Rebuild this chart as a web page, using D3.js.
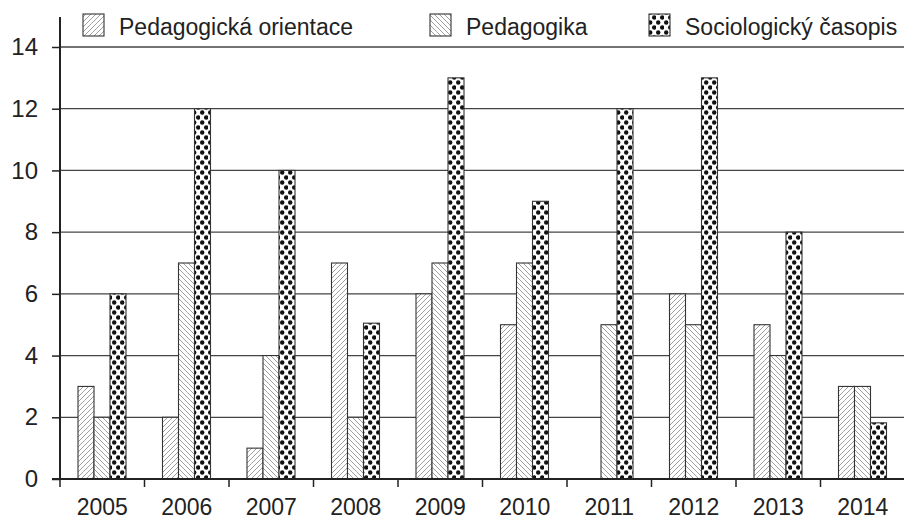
<!DOCTYPE html>
<html><head><meta charset="utf-8">
<script src="https://cdn.jsdelivr.net/npm/d3@7"></script>
<style>body{margin:0;background:#fff}svg{display:block}text{font-family:"Liberation Sans",Arial,sans-serif;fill:#222}</style>
</head><body><div id="chart"></div>
<script>
const years = ["2005","2006","2007","2008","2009","2010","2011","2012","2013","2014"];
const seriesNames = ["Pedagogická orientace","Pedagogika","Sociologický časopis"];
const pedOrientace = [3,2,1,7,6,5,0,6,5,3];
const pedagogika = [2,7,4,2,7,7,5,5,4,3];
const socCasopis = [6,12,10,5.05,13,9,12,13,8,1.82];
const yTicks = [0,2,4,6,8,10,12,14];
const seriesValues = [pedOrientace, pedagogika, socCasopis];

const W = 904, H = 520;
const svg = d3.select("#chart").append("svg").attr("width", W).attr("height", H);
const defs = svg.append("defs");

// patterns
const p1 = defs.append("pattern").attr("id","pat0").attr("patternUnits","userSpaceOnUse").attr("width",5).attr("height",5);
p1.append("rect").attr("width",5).attr("height",5).attr("fill","#fff");
p1.append("path").attr("d","M-1,1 L1,-1 M0,5 L5,0 M4,6 L6,4").attr("stroke","#888").attr("stroke-width",0.8);
const p2 = defs.append("pattern").attr("id","pat1").attr("patternUnits","userSpaceOnUse").attr("width",5).attr("height",5);
p2.append("rect").attr("width",5).attr("height",5).attr("fill","#fff");
p2.append("path").attr("d","M-1,4 L1,6 M0,0 L5,5 M4,-1 L6,1").attr("stroke","#888").attr("stroke-width",0.8);
const p3 = defs.append("pattern").attr("id","pat2").attr("patternUnits","userSpaceOnUse").attr("width",8).attr("height",10).attr("x",0).attr("y",0);
p3.append("rect").attr("width",8).attr("height",10).attr("fill","#fff");
p3.append("circle").attr("cx",2.2).attr("cy",2.5).attr("r",2.2).attr("fill","#111");
p3.append("circle").attr("cx",6.2).attr("cy",7.5).attr("r",2.2).attr("fill","#111");

const x0 = d3.scaleBand().domain(years).range([60, 905]);
const x1 = d3.scaleBand().domain(d3.range(3)).range([18, 66]);
const y = d3.scaleLinear().domain([0,14]).range([479, 47]);

// gridlines
svg.append("g").selectAll("line").data(yTicks.filter(d=>d>0)).join("line")
  .attr("x1",60).attr("x2",904).attr("y1",d=>y(d)).attr("y2",d=>y(d))
  .attr("stroke","#444").attr("stroke-width",1.3);

// bars
const g = svg.append("g");
years.forEach((yr,i)=>{
  seriesValues.forEach((vals,s)=>{
    if (vals[i] <= 0) return;
    g.append("rect")
      .attr("x", x0(yr)+x1(s)).attr("width", x1.bandwidth())
      .attr("y", y(vals[i])).attr("height", y(0)-y(vals[i]))
      .attr("fill", `url(#pat${s})`).attr("stroke","#333").attr("stroke-width",1.1);
  });
});

// y axis
const yAxis = d3.axisLeft(y).tickValues(yTicks).tickSize(8).tickPadding(14).tickFormat(d3.format("d"));
const ya = svg.append("g").attr("transform","translate(60,0)").call(yAxis);
ya.select(".domain").remove();
ya.selectAll(".tick line").attr("stroke","#222").attr("stroke-width",1.5);
ya.selectAll("text").attr("font-size",24).attr("fill","#222").style("font-family","Liberation Sans, Arial, sans-serif");
svg.append("line").attr("x1",60).attr("x2",60).attr("y1",17).attr("y2",479).attr("stroke","#222").attr("stroke-width",2);

// x axis
svg.append("line").attr("x1",52).attr("x2",904).attr("y1",479).attr("y2",479).attr("stroke","#222").attr("stroke-width",2);
const xb = svg.append("g");
xb.selectAll("line").data(years).join("line")
  .attr("x1",d=>x0(d)).attr("x2",d=>x0(d)).attr("y1",479).attr("y2",487)
  .attr("stroke","#222").attr("stroke-width",1.5);
xb.selectAll("text").data(years).join("text")
  .attr("x",d=>x0(d)+x0.bandwidth()/2).attr("y",515)
  .attr("text-anchor","middle").attr("font-size",23).text(d=>d);

// legend
const legX = [83, 430, 649];
const leg = svg.append("g");
seriesNames.forEach((n,i)=>{
  leg.append("rect").attr("x",legX[i]).attr("y",14).attr("width",21).attr("height",22)
    .attr("fill",`url(#pat${i})`).attr("stroke","#333").attr("stroke-width",1.1);
  leg.append("text").attr("x",legX[i]+36).attr("y",35).attr("font-size",23).text(n);
});
</script></body></html>
